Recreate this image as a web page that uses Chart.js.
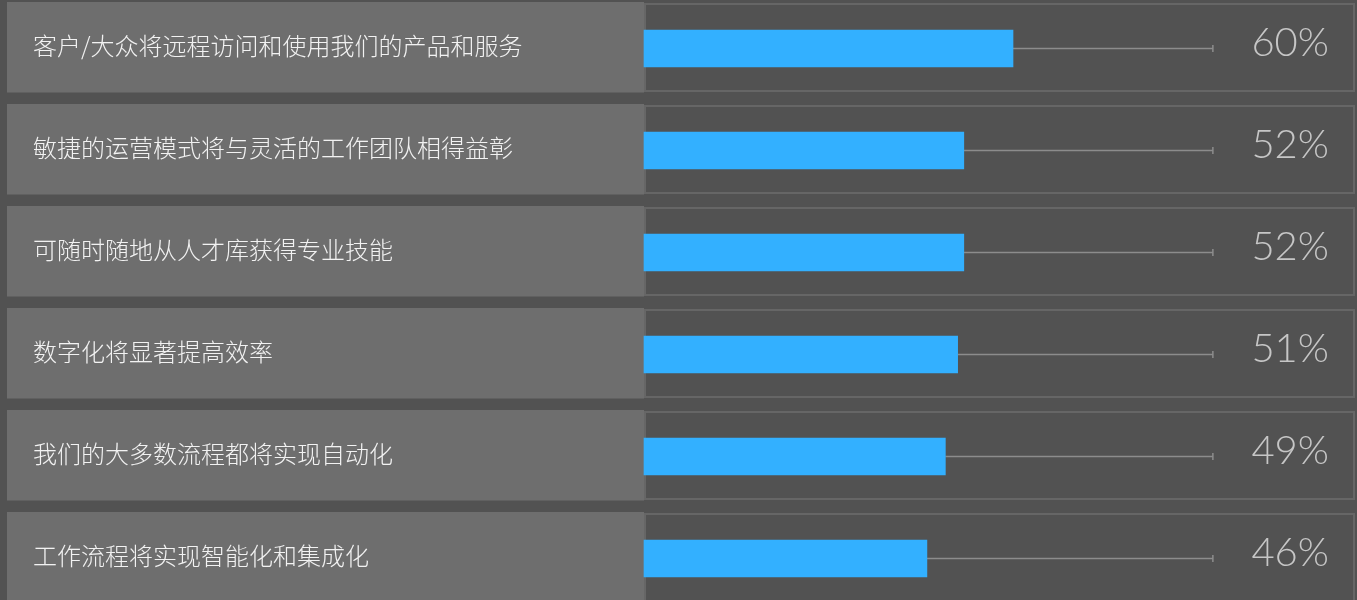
<!DOCTYPE html>
<html>
<head>
<meta charset="utf-8">
<script src="https://cdn.jsdelivr.net/npm/chart.js@4/dist/chart.umd.min.js"></script>
<style>
html,body{margin:0;padding:0;background:#525252;}
#wrap{width:1357px;height:600px;}
</style>
</head>
<body>
<div id="wrap"><canvas id="c" width="1357" height="600"></canvas></div>
<script>
const categories = [
  "客户/大众将远程访问和使用我们的产品和服务",
  "敏捷的运营模式将与灵活的工作团队相得益彰",
  "可随时随地从人才库获得专业技能",
  "数字化将显著提高效率",
  "我们的大多数流程都将实现自动化",
  "工作流程将实现智能化和集成化"
];
const values = [60, 52, 52, 51, 49, 46];
const valueLabels = ["60%", "52%", "52%", "51%", "49%", "46%"];
const trackEnd = 92.5;

const panelPlugin = {
  id: 'panels',
  beforeDatasetsDraw(chart) {
    const ctx = chart.ctx;
    const y = chart.scales.y, x = chart.scales.x;
    ctx.save();
    categories.forEach((c, i) => {
      const cy = y.getPixelForValue(i);
      const top = cy - 46.5;
      // left label panel
      ctx.fillStyle = '#6e6e6e';
      ctx.fillRect(7, top, 637, 90.5);
      // right panel border
      ctx.strokeStyle = '#666666';
      ctx.lineWidth = 2;
      ctx.strokeRect(645, top + 2, 709, 87);
      // label text
      ctx.fillStyle = '#f2f2f2';
      ctx.font = '300 24px "Noto Sans CJK SC", sans-serif';
      ctx.textBaseline = 'middle';
      ctx.textAlign = 'left';
      ctx.fillText(c, 33, cy - 3);
      // track line
      const x0 = x.getPixelForValue(values[i]);
      const x1 = x.getPixelForValue(trackEnd);
      ctx.strokeStyle = '#8c8c8c';
      ctx.lineWidth = 1.5;
      ctx.beginPath();
      ctx.moveTo(x0, cy);
      ctx.lineTo(x1, cy);
      ctx.moveTo(x1, cy - 3.5);
      ctx.lineTo(x1, cy + 3.5);
      ctx.stroke();
      // value label
      ctx.fillStyle = '#c6c6c6';
      ctx.font = '300 40px Lato, sans-serif';
      ctx.textAlign = 'right';
      ctx.textBaseline = 'alphabetic';
      ctx.fillText(valueLabels[i], 1329, cy + 7);
    });
    ctx.restore();
  }
};

new Chart(document.getElementById('c'), {
  type: 'bar',
  data: {
    labels: categories,
    datasets: [{
      data: values,
      backgroundColor: '#33b0ff',
      borderWidth: 0,
      barThickness: 37,
      clip: false
    }]
  },
  options: {
    indexAxis: 'y',
    responsive: false,
    animation: false,
    layout: { padding: { left: 644, right: 98, top: 48.5, bottom: 41.5 } },
    plugins: { legend: { display: false }, tooltip: { enabled: false } },
    scales: {
      x: { min: 0, max: 100, display: false, grid: { display: false } },
      y: { display: false, offset: false, grid: { display: false } }
    }
  },
  plugins: [panelPlugin]
});
</script>
</body>
</html>
